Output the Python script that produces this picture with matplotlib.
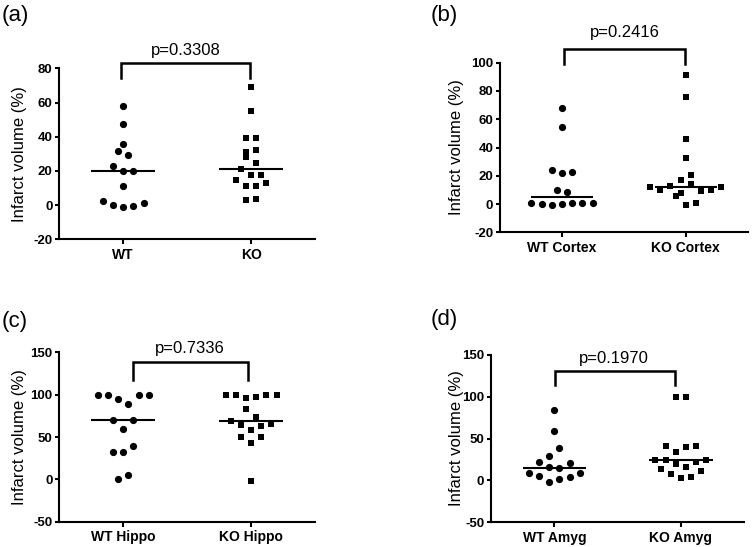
import numpy as np
import matplotlib
matplotlib.use('Agg')
import matplotlib.pyplot as plt

plt.rcParams['font.family'] = ['Liberation Sans', 'DejaVu Sans']

# ---------------- data ----------------
panel_labels = ['(a)', '(b)', '(c)', '(d)']
categories_a = ['WT', 'KO']
categories_b = ['WT Cortex', 'KO Cortex']
categories_c = ['WT Hippo', 'KO Hippo']
categories_d = ['WT Amyg', 'KO Amyg']
p_values = ['p=0.3308', 'p=0.2416', 'p=0.7336', 'p=0.1970']
y_label = 'Infarct volume (%)'

wt_a = [2.5, 0.2, -1.4, -0.6, 1.0, 10.9, 22.8, 19.7, 19.7, 31.4, 29.4, 35.9, 47.2, 57.9]
ko_a = [2.9, 3.7, 14.8, 11.1, 11.1, 13.1, 21.1, 17.6, 17.6, 28.3, 24.4, 31.2, 32.4,
        39.0, 39.0, 54.8, 68.9]

wt_b = [1.0, 0.3, -0.6, 0.0, 0.6, 0.4, 1.0, 10.1, 8.5, 24.0, 21.9, 23.0, 54.8, 67.7]
ko_b = [5.4, -0.5, 0.7, 11.7, 9.9, 13.1, 7.8, 14.1, 8.9, 9.9, 11.7, 17.1, 20.7,
        32.9, 45.9, 75.7, 91.5]

wt_c = [0.0, 5.5, 31.8, 31.8, 39.3, 70.3, 58.9, 70.3, 100, 100, 94.7, 88.5, 100, 100]
ko_c = [-2.4, 49.5, 42.9, 50.3, 69.1, 63.6, 58.2, 63.0, 65.2, 83.3, 73.5,
        100, 100, 95.9, 97.0, 100, 100]

wt_d = [8.4, 5.1, -2.4, 1.2, 4.3, 8.4, 22.2, 15.5, 14.3, 20.3, 29.0, 38.2, 58.8, 84.3]
ko_d = [13.1, 7.5, 3.4, 4.3, 11.5, 24.5, 24.5, 19.5, 16.5, 21.5, 24.5,
        41.3, 33.4, 39.4, 41.3, 100, 100]

yticks_a = [-20, 0, 20, 40, 60, 80]
yticks_b = [-20, 0, 20, 40, 60, 80, 100]
yticks_c = [-50, 0, 50, 100, 150]
yticks_d = [-50, 0, 50, 100, 150]

# ---------------- layout (pixels) ----------------
W, H = 752, 547
panels = [
    dict(cats=categories_a, wt=wt_a, ko=ko_a, yt=yticks_a, box=(59.3, 315.0, 68.3, 239.3),
         br=(-0.02, 0.99, 82.9, 74.1), ptxt=(186, 50), lab=(2, 16), ylx=20),
    dict(cats=categories_b, wt=wt_b, ko=ko_b, yt=yticks_b, box=(500.0, 747.7, 62.7, 232.3),
         br=(0.02, 0.99, 109.6, 99.0), ptxt=(624.5, 33), lab=(431, 16), ylx=457),
    dict(cats=categories_c, wt=wt_c, ko=ko_c, yt=yticks_c, box=(59.3, 315.0, 352.3, 521.7),
         br=(0.074, 0.978, 138.3, 117.8), ptxt=(189.5, 349), lab=(2, 321), ylx=20),
    dict(cats=categories_d, wt=wt_d, ko=ko_d, yt=yticks_d, box=(491.0, 744.3, 354.7, 522.3),
         br=(0.005, 0.955, 130.8, 114.1), ptxt=(613.8, 358), lab=(431, 319), ylx=456),
]

ROW_PX = 10.25     # vertical extent of one swarm row (px)
SLOT_PX = 10.2     # horizontal spacing between markers (px)


def swarm_offsets(vals, px_per_unit_y, slot_units):
    vals = np.asarray(vals, float)
    order = np.argsort(vals, kind='stable')
    rows, cur, start = [], [], None
    for i in order:
        if cur and (vals[i] - start) * px_per_unit_y > ROW_PX:
            rows.append(cur)
            cur = []
        if not cur:
            start = vals[i]
        cur.append(i)
    rows.append(cur)
    off = np.zeros(len(vals))
    for r in rows:
        r = sorted(r)
        n = len(r)
        for k, i in enumerate(r):
            off[i] = (k - (n - 1) / 2) * slot_units
    return off


fig = plt.figure(figsize=(W / 100, H / 100), dpi=100)

for i, p in enumerate(panels):
    x0, x1, y0, y1 = p['box']
    ax = fig.add_axes([x0 / W, 1 - y1 / H, (x1 - x0) / W, (y1 - y0) / H])
    ylim = (p['yt'][0], p['yt'][-1])
    ax.set_xlim(-0.5, 1.5)
    ax.set_ylim(*ylim)
    ppu_y = (y1 - y0) / (ylim[1] - ylim[0])
    slot = SLOT_PX / ((x1 - x0) / 2.0)

    for k, (vals, mk, ms) in enumerate([(p['wt'], 'o', 5.2), (p['ko'], 's', 5.0)]):
        off = swarm_offsets(vals, ppu_y, slot)
        ax.plot(k + off, vals, linestyle='none', marker=mk, markersize=ms,
                color='black', markeredgewidth=0, clip_on=False, zorder=3)
        med = np.median(vals)
        ax.plot([k - 0.25, k + 0.25], [med, med], color='black', lw=1.5,
                solid_capstyle='butt', zorder=4)

    for s in ['top', 'right']:
        ax.spines[s].set_visible(False)
    for s in ['left', 'bottom']:
        ax.spines[s].set_linewidth(1.5)
    ax.set_yticks(p['yt'])
    ax.set_yticklabels([str(v) for v in p['yt']], fontweight='bold', fontsize=9.5)
    ax.set_xticks([0, 1])
    ax.set_xticklabels(p['cats'], fontweight='bold', fontsize=10)
    ax.tick_params(axis='y', direction='out', length=3.1, width=1.5, pad=1.7)
    ax.tick_params(axis='x', direction='out', length=3.3, width=1.5, pad=3)

    ax.set_ylabel(y_label, fontsize=12, va='center')
    ax.yaxis.set_label_coords((p['ylx'] - x0) / (x1 - x0), 0.5)

    bl, brr, btop, bbot = p['br']
    ax.plot([bl, bl, brr, brr], [bbot, btop, btop, bbot], color='black', lw=1.8,
            clip_on=False, solid_joinstyle='miter')

    fig.text(p['ptxt'][0] / W, 1 - p['ptxt'][1] / H, p_values[i], fontsize=12,
             ha='center', va='center')
    fig.text(p['lab'][0] / W, 1 - p['lab'][1] / H, panel_labels[i], fontsize=16,
             ha='left', va='center')

fig.savefig('out.png', dpi=100)
